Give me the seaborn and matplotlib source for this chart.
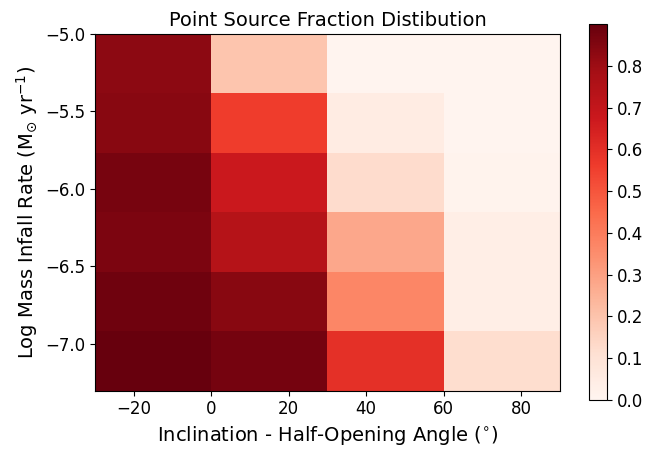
import numpy as np
import pandas as pd
import matplotlib
matplotlib.use("Agg")
import matplotlib.pyplot as plt
import seaborn as sns

# --- data -------------------------------------------------------------
angle_edges = [-30, 0, 30, 60, 90]                     # inclination - half-opening angle bins (deg)
mdot_edges = [-5.0, -5.384, -5.768, -6.151, -6.535, -6.919, -7.303]  # log Mdot bins
angle_ticks = [-20, 0, 20, 40, 60, 80]
mdot_ticks = [-5.0, -5.5, -6.0, -6.5, -7.0]
cbar_ticks = [0.0, 0.1, 0.2, 0.3, 0.4, 0.5, 0.6, 0.7, 0.8]

# rows: top (-5.0) to bottom (-7.3); columns: left (-30) to right (90)
frac_row1 = [0.830, 0.195, 0.005, 0.005]
frac_row2 = [0.840, 0.562, 0.050, 0.007]
frac_row3 = [0.870, 0.675, 0.125, 0.012]
frac_row4 = [0.860, 0.740, 0.280, 0.040]
frac_row5 = [0.885, 0.840, 0.370, 0.040]
frac_row6 = [0.900, 0.875, 0.595, 0.120]

fraction = pd.DataFrame([frac_row1, frac_row2, frac_row3, frac_row4, frac_row5, frac_row6])

# --- figure -------------------------------------------------------------
fig = plt.figure(figsize=(6.48, 4.49), dpi=100)
ax = fig.add_axes([0.1466, 0.1298, 0.7176, 0.7945])
cax = fig.add_axes([0.9085, 0.109, 0.0287, 0.8375])

cmap = sns.color_palette("Reds", as_cmap=True)
sns.heatmap(fraction, ax=ax, cbar_ax=cax, cmap=cmap, vmin=0.0, vmax=0.9,
            xticklabels=False, yticklabels=False)

# map data coordinates onto the heatmap's cell grid
x_pos = np.interp(angle_ticks, angle_edges, np.arange(len(angle_edges)))
y_pos = np.interp(mdot_ticks, mdot_edges[::-1], np.arange(len(mdot_edges))[::-1])

ax.set_xticks(x_pos)
ax.set_xticklabels([f"{t:d}".replace("-", "\u2212") for t in angle_ticks], fontsize=12, rotation=0)
ax.set_yticks(y_pos)
ax.set_yticklabels([f"{t:.1f}".replace("-", "\u2212") for t in mdot_ticks], fontsize=12, rotation=0)
ax.tick_params(axis="both", direction="out", length=3.5, width=0.8, color="black", labelcolor="black")

for s in ax.spines.values():
    s.set_visible(True)
    s.set_color("black")
    s.set_linewidth(0.8)

ax.set_title("Point Source Fraction Distibution", fontsize=14)
ax.set_xlabel(r"Inclination - Half-Opening Angle ($^{\circ}$)", fontsize=14)
ax.set_ylabel(r"Log Mass Infall Rate (M$_{\odot}$ yr$^{-1}$)", fontsize=14)

cb = ax.collections[0].colorbar
cb.outline.set_linewidth(0.8)
cb.outline.set_edgecolor("black")
cb.set_ticks(cbar_ticks)
cb.set_ticklabels([f"{t:.1f}" for t in cbar_ticks])
cax.tick_params(labelsize=12, direction="out", length=3.5, width=0.8, color="black")

fig.savefig("out.png", dpi=100)
